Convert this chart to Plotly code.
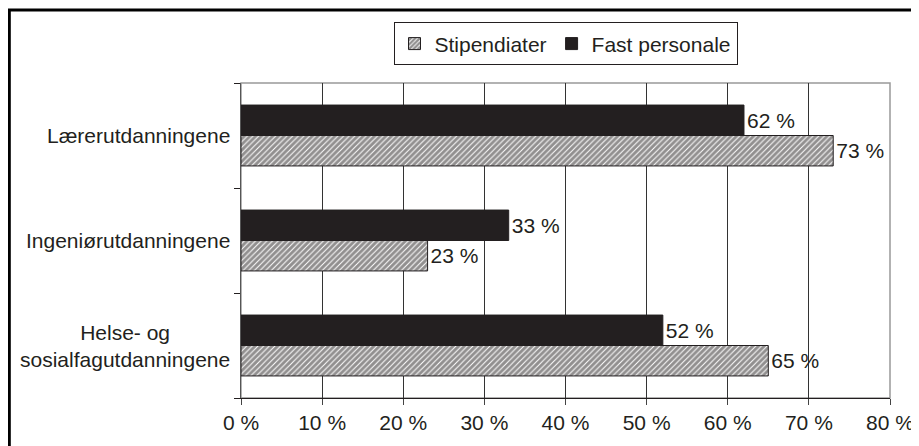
import plotly.graph_objects as go

categories = ["Helse- og<br>sosialfagutdanningene", "Ingeniørutdanningene", "Lærerutdanningene"]
stipendiater = [65, 23, 73]
fast_personale = [52, 33, 62]
x_ticks = [0, 10, 20, 30, 40, 50, 60, 70, 80]
x_ticktext = [f"{v} %" for v in x_ticks]

FONT = "Liberation Sans, Arial, sans-serif"
FS = 21
INK = "#231f20"

fig = go.Figure()
fig.add_trace(go.Bar(
    y=categories, x=stipendiater, orientation="h", name="Stipendiater",
    marker=dict(color="white", line=dict(color=INK, width=1),
                pattern=dict(shape="/", fgcolor=INK, bgcolor="white", size=4, solidity=0.75)),
    text=[f"{v} %" for v in stipendiater], textposition="outside",
    textfont=dict(size=FS, color=INK, family=FONT), cliponaxis=False,
))
fig.add_trace(go.Bar(
    y=categories, x=fast_personale, orientation="h", name="Fast personale",
    marker=dict(color=INK, line=dict(color=INK, width=1)),
    text=[f"{v} %" for v in fast_personale], textposition="outside",
    textfont=dict(size=FS, color=INK, family=FONT), cliponaxis=False,
))

annotations = []
for c in categories:
    annotations.append(dict(
        x=-0.0139, y=c, xref="paper", yref="y", text=c, showarrow=False,
        xanchor="right", yanchor="middle", align="center",
        font=dict(size=FS, color=INK, family=FONT),
    ))

# page body keeps its default 8px margin, so margins are offset by 8px
fig.update_layout(
    width=919, height=446,
    margin=dict(l=233, r=37, t=75, b=56),
    paper_bgcolor="white", plot_bgcolor="white",
    barmode="group", bargap=0.42, bargroupgap=0,
    font=dict(family=FONT, size=FS, color=INK),
    showlegend=True,
    legend=dict(orientation="h", x=0.5, xanchor="center", y=1.124, yanchor="middle",
                bordercolor=INK, borderwidth=1, bgcolor="white",
                font=dict(size=FS, family=FONT), itemwidth=30, traceorder="normal",
                tracegroupgap=0),
    xaxis=dict(range=[0, 80], tickvals=x_ticks, ticktext=x_ticktext,
               showgrid=True, gridcolor="#333333", gridwidth=1,
               showline=True, linecolor=INK, linewidth=1,
               ticks="outside", ticklen=6, tickcolor="#444444",
               tickfont=dict(size=FS, family=FONT), zeroline=False, fixedrange=True),
    yaxis=dict(showticklabels=False, tickson="boundaries", ticks="outside", ticklen=6,
               tickcolor=INK, showline=True, linecolor="#555555", linewidth=1,
               showgrid=False, fixedrange=True),
    annotations=annotations,
    shapes=[
        dict(type="rect", xref="paper", yref="paper", x0=0, x1=1, y0=0, y1=1,
             line=dict(color="#999999", width=1.5), layer="below"),
        dict(type="rect", xref="paper", yref="paper", x0=-0.357, x1=1.2, y0=-0.4, y1=1.232,
             line=dict(color="black", width=3)),
    ],
)

fig.write_html(
    "out.html",
    config={"displayModeBar": False, "responsive": False},
    post_script="document.documentElement.style.overflow='hidden';",
)
